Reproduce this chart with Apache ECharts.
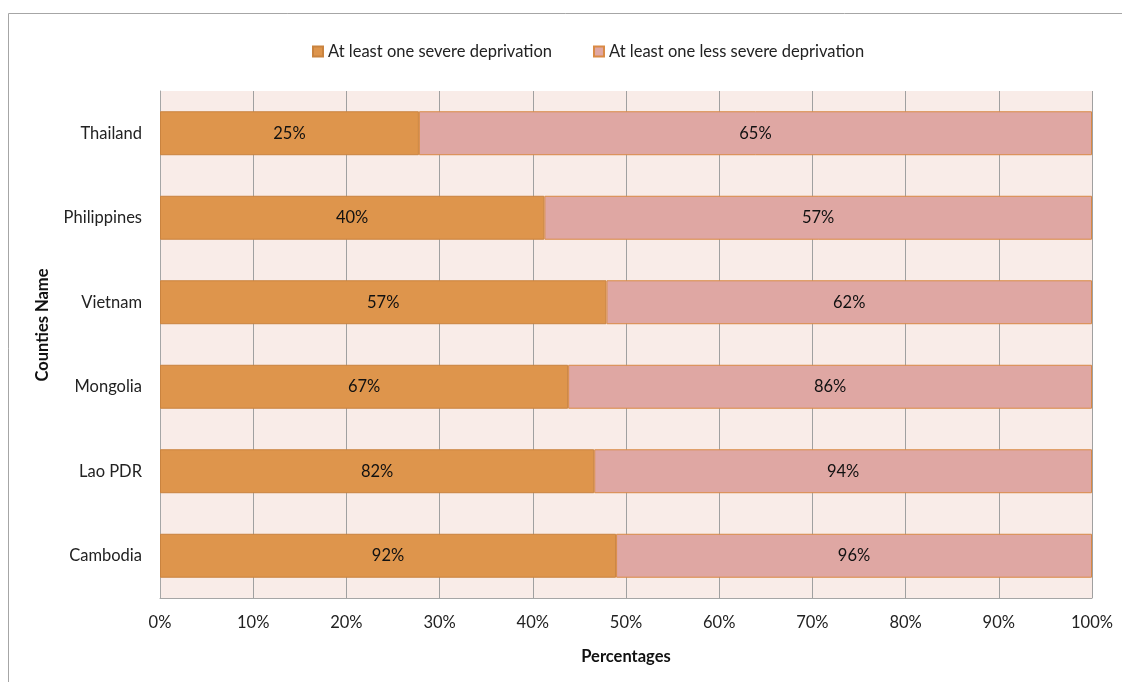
<!DOCTYPE html>
<html>
<head>
<meta charset="utf-8">
<script src="https://cdn.jsdelivr.net/npm/echarts@6/dist/echarts.min.js"></script>
<style>
  html, body { margin: 0; padding: 0; background: #fff; }
  #chart { width: 1122px; height: 682px; }
</style>
</head>
<body>
<div id="chart"></div>
<script>
// Countries, listed bottom to top on the category axis
const countries = ['Cambodia', 'Lao PDR', 'Mongolia', 'Vietnam', 'Philippines', 'Thailand'];
// Share of children with at least one severe / less severe deprivation (%)
const severe = [92, 82, 67, 57, 40, 25];
const lessSevere = [96, 94, 86, 62, 57, 65];
const xTicks = ['0%', '10%', '20%', '30%', '40%', '50%', '60%', '70%', '80%', '90%', '100%'];

// 100% stacked: each bar is drawn as its part of the row total
const totals = severe.map((v, i) => v + lessSevere[i]);
const severeShare = severe.map((v, i) => v / totals[i] * 100);
const lessShare = lessSevere.map((v, i) => v / totals[i] * 100);

const font = 'Lato, "Open Sans", sans-serif';
const fs = 16.5;
const chart = echarts.init(document.getElementById('chart'));

chart.setOption({
  animation: false,
  textStyle: { fontFamily: font },
  graphic: [
    {
      type: 'polyline',
      shape: { points: [[8.5, 690], [8.5, 13.5], [1130, 13.5]] },
      style: { stroke: '#a6a6a6', lineWidth: 1, fill: null },
      silent: true
    },
    {
      type: 'text',
      x: 43,
      y: 325,
      rotation: Math.PI / 2,
      style: {
        text: 'Counties Name',
        font: 'bold ' + fs + 'px ' + font,
        fill: '#111',
        align: 'center',
        verticalAlign: 'middle'
      },
      silent: true
    }
  ],
  legend: {
    top: 38,
    left: 307,
    itemWidth: 10,
    itemHeight: 10,
    itemGap: 41,
    icon: 'rect',
    textStyle: { fontSize: fs, color: '#222', fontFamily: font }
  },
  grid: {
    left: 160,
    right: 30,
    top: 91,
    bottom: 84,
    show: true,
    backgroundColor: '#f9ece8',
    borderWidth: 0
  },
  xAxis: {
    type: 'value',
    min: 0,
    max: 100,
    interval: 10,
    name: 'Percentages',
    nameLocation: 'middle',
    nameGap: 50,
    nameTextStyle: { fontSize: fs, fontWeight: 'bold', color: '#111', fontFamily: font },
    axisLine: { show: true, lineStyle: { color: '#a6a6a6' } },
    axisTick: { show: false },
    axisLabel: {
      fontSize: fs, color: '#222', margin: 16, fontFamily: font,
      formatter: v => xTicks[Math.round(v / 10)]
    },
    splitLine: { show: true, lineStyle: { color: '#a0a0a0', width: 1 } }
  },
  yAxis: {
    type: 'category',
    data: countries,
    axisLine: { show: true, lineStyle: { color: '#a6a6a6' } },
    axisTick: { show: false },
    axisLabel: { fontSize: fs, color: '#222', margin: 18, fontFamily: font, padding: [4, 0, 0, 0] }
  },
  series: [
    {
      name: 'At least one severe deprivation',
      type: 'bar',
      stack: 'total',
      barCategoryGap: '48%',
      data: severeShare,
      itemStyle: { color: '#de954c', borderColor: '#c9833f', borderWidth: 1 },
      label: {
        show: true, position: 'inside', fontSize: fs, color: '#111', fontFamily: font,
        formatter: p => severe[p.dataIndex] + '%'
      }
    },
    {
      name: 'At least one less severe deprivation',
      type: 'bar',
      stack: 'total',
      barCategoryGap: '48%',
      data: lessShare,
      itemStyle: { color: '#dfa7a3', borderColor: '#d98a45', borderWidth: 1 },
      label: {
        show: true, position: 'inside', fontSize: fs, color: '#111', fontFamily: font,
        formatter: p => lessSevere[p.dataIndex] + '%'
      }
    }
  ]
});
</script>
</body>
</html>
